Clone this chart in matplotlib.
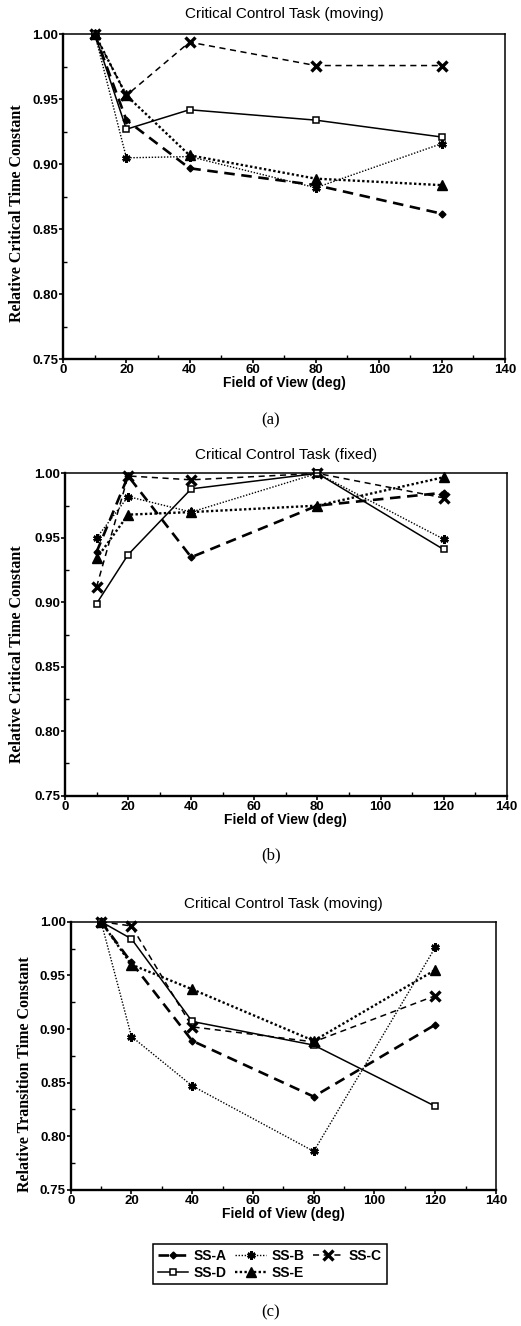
import matplotlib.pyplot as plt
from matplotlib.lines import Line2D
from matplotlib.ticker import MultipleLocator

# field of view settings (deg)
fov = [10, 20, 40, 80, 120]

# (a) critical control task, moving base
a_ss_a = [1.000, 0.934, 0.897, 0.884, 0.862]
a_ss_b = [1.000, 0.905, 0.906, 0.882, 0.916]
a_ss_c = [1.000, 0.953, 0.994, 0.976, 0.976]
a_ss_d = [1.000, 0.927, 0.942, 0.934, 0.921]
a_ss_e = [1.000, 0.953, 0.907, 0.889, 0.884]

# (b) critical control task, fixed base
b_ss_a = [0.939, 0.998, 0.935, 0.975, 0.985]
b_ss_b = [0.950, 0.982, 0.970, 1.000, 0.949]
b_ss_c = [0.912, 0.998, 0.995, 1.000, 0.981]
b_ss_d = [0.899, 0.937, 0.988, 1.000, 0.941]
b_ss_e = [0.934, 0.968, 0.970, 0.975, 0.997]

# (c) transition time constant, moving base
c_ss_a = [1.000, 0.962, 0.889, 0.837, 0.904]
c_ss_b = [1.000, 0.893, 0.847, 0.786, 0.976]
c_ss_c = [1.000, 0.996, 0.902, 0.888, 0.931]
c_ss_d = [1.000, 0.984, 0.907, 0.885, 0.828]
c_ss_e = [1.000, 0.960, 0.937, 0.889, 0.955]

subjects = ['SS-A', 'SS-B', 'SS-C', 'SS-D', 'SS-E']

styles = {
    'SS-A': dict(color='k', lw=1.9, dashes=(4, 2.5), marker='D', ms=3.5, mfc='k', mec='k'),
    'SS-B': dict(color='k', lw=1.0, ls=(0, (1, 1.2)), marker=(6, 2, 0), ms=6, mew=1.8, mec='k'),
    'SS-C': dict(color='k', lw=1.1, dashes=(4, 3), marker='x', ms=6.5, mew=2.4, mec='k'),
    'SS-D': dict(color='k', lw=1.1, ls='-', marker='s', ms=5, mfc='white', mec='k', mew=1.1),
    'SS-E': dict(color='k', lw=1.7, ls=(0, (1, 1)), marker='^', ms=6.5, mfc='k', mec='k'),
}

tick_font = dict(family='Liberation Sans', weight='bold', size=9.5)

fig = plt.figure(figsize=(5.21, 13.26), dpi=100)

# rect, title, title pad, y label, y label position, series, panel tag, tag height
panels = [
    ([0.1215, 0.729, 0.8478, 0.2451], 'Critical Control Task (moving)', 12,
     'Relative Critical Time Constant', (-0.086, 0.45),
     [a_ss_a, a_ss_b, a_ss_c, a_ss_d, a_ss_e], '(a)', 0.683),
    ([0.1248, 0.3999, 0.8478, 0.2431], 'Critical Control Task (fixed)', 10,
     'Relative Critical Time Constant', (-0.09, 0.44),
     [b_ss_a, b_ss_b, b_ss_c, b_ss_d, b_ss_e], '(b)', 0.355),
    ([0.1357, 0.1026, 0.8163, 0.2023], 'Critical Control Task (moving)', 10,
     'Relative Transition Time Constant', (-0.089, 0.43),
     [c_ss_a, c_ss_b, c_ss_c, c_ss_d, c_ss_e], None, None),
]

for rect, title, tpad, ylab, ylab_xy, series, tag, tag_y in panels:
    ax = fig.add_axes(rect)
    for name, vals in zip(subjects, series):
        ax.plot(fov, vals, label=name, clip_on=False, **styles[name])
    ax.set_xlim(0, 140)
    ax.set_ylim(0.75, 1.00)
    ax.xaxis.set_major_locator(MultipleLocator(20))
    ax.xaxis.set_minor_locator(MultipleLocator(10))
    ax.yaxis.set_major_locator(MultipleLocator(0.05))
    ax.yaxis.set_minor_locator(MultipleLocator(0.025))
    ax.tick_params(which='major', direction='out', length=3, width=1.2, pad=0.5)
    ax.tick_params(which='minor', direction='in', length=3, width=1.0)
    ax.set_xticklabels([f'{v:.0f}' for v in ax.get_xticks()], **tick_font)
    ax.set_yticklabels([f'{v:.2f}' for v in ax.get_yticks()], **tick_font)
    for side in ('left', 'bottom'):
        ax.spines[side].set_linewidth(1.7)
    for side in ('top', 'right'):
        ax.spines[side].set_linewidth(1.1)
    ax.set_title(title, family='Liberation Sans', size=11, pad=tpad)
    ax.set_xlabel('Field of View (deg)', family='Liberation Sans', weight='bold', size=10, labelpad=0)
    ax.set_ylabel(ylab, family='Liberation Serif', weight='bold', size=11.5)
    ax.yaxis.set_label_coords(*ylab_xy)
    if tag:
        fig.text(0.52, tag_y, tag, ha='center', va='center', family='Liberation Serif', size=12)

# shared legend, filled row by row
handles = [Line2D([], [], label=n, **styles[n]) for n in subjects]
order = [0, 3, 1, 4, 2]
leg = fig.legend([handles[i] for i in order], [subjects[i] for i in order],
                 loc='center', bbox_to_anchor=(0.518, 0.0466), ncol=3,
                 frameon=True, fancybox=False, edgecolor='k', framealpha=1,
                 handlelength=2.2, handletextpad=0.4, columnspacing=0.6,
                 labelspacing=0.2, borderpad=0.35,
                 prop=dict(family='Liberation Sans', weight='bold', size=10))
leg.get_frame().set_linewidth(1.1)
fig.text(0.52, 0.0105, '(c)', ha='center', va='center', family='Liberation Serif', size=12)

plt.savefig('out.png', dpi=100)
plt.close()
